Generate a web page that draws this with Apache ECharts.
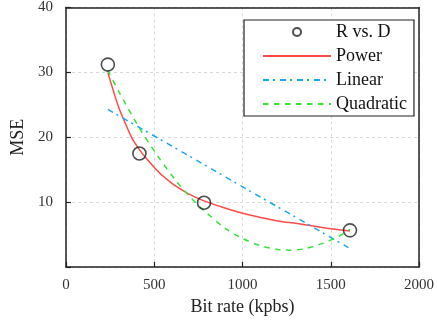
<!DOCTYPE html>
<html>
<head>
<meta charset="utf-8">
<script src="https://cdn.jsdelivr.net/npm/echarts@6/dist/echarts.min.js"></script>
<style>
html,body{margin:0;padding:0;background:#fff;}
#c{width:437px;height:321px;}
</style>
</head>
<body>
<div id="c"></div>
<script>
// Measured rate-distortion points
const rdX = [237, 416, 782, 1609];
const rdY = [31.2, 17.5, 9.9, 5.65];

// Power fit curve
const powerX = [237, 270, 300, 340, 377, 416, 450, 526, 600, 638, 700, 782, 900, 1030, 1200, 1310, 1450, 1609];
const powerY = [30.0, 27.0, 24.5, 21.9, 19.7, 18.1, 16.9, 14.6, 12.9, 12.2, 11.2, 10.2, 9.1, 8.1, 7.1, 6.7, 6.1, 5.55];

// Linear fit
const linearX = [237, 1600];
const linearY = [24.3, 3.0];

// Quadratic fit
const quadX = [237, 300, 414, 520, 620, 700, 782, 900, 1000, 1100, 1200, 1260, 1350, 1450, 1550, 1609];
const quadY = [30.3, 27.0, 21.5, 17.1, 13.4, 10.9, 8.7, 6.0, 4.4, 3.3, 2.7, 2.6, 2.8, 3.6, 4.8, 5.8];

// Axis ticks
const xTicks = [0, 500, 1000, 1500, 2000];
const yTicks = [0, 10, 20, 30, 40];

const zip = (xs, ys) => xs.map((x, i) => [x, ys[i]]);
const serif = "'Liberation Serif', 'DejaVu Serif', serif";
const frame = '#222';
const clear = 'rgba(0,0,0,0)';

const frameAxis = (pos) => ({
  position: pos, axisLine: {show: true, onZero: false, lineStyle: {color: frame, width: 1.5}},
  axisTick: {show: false}, axisLabel: {show: false}, splitLine: {show: false}
});

const chart = echarts.init(document.getElementById('c'), null, {renderer: 'canvas'});
chart.setOption({
  animation: false,
  backgroundColor: '#fff',
  grid: {left: 66, right: 14, top: 5, bottom: 54},
  xAxis: [{
    type: 'value', min: xTicks[0], max: xTicks[xTicks.length - 1], interval: 500,
    name: 'Bit rate (kpbs)', nameLocation: 'middle', nameGap: 31,
    nameTextStyle: {fontFamily: serif, fontSize: 18, color: '#222'},
    axisLine: {show: true, onZero: false, lineStyle: {color: frame, width: 1.5}},
    axisTick: {show: true, inside: true, length: 5, lineStyle: {color: frame, width: 1.2}},
    axisLabel: {fontFamily: serif, fontSize: 15, color: '#333', margin: 11, showMaxLabel: true, showMinLabel: true,
      formatter: v => String(v)},
    splitLine: {show: true, lineStyle: {color: '#d8d8d8', type: [3, 3], width: 1}}
  }, Object.assign({type: 'value', min: xTicks[0], max: xTicks[xTicks.length - 1], interval: 500}, frameAxis('top'))],
  yAxis: [{
    type: 'value', min: yTicks[0], max: yTicks[yTicks.length - 1], interval: 10,
    name: 'MSE', nameLocation: 'middle', nameGap: 39, nameRotate: 90,
    nameTextStyle: {fontFamily: serif, fontSize: 18, color: '#222'},
    axisLine: {show: true, onZero: false, lineStyle: {color: frame, width: 1.5}},
    axisTick: {show: true, inside: true, length: 5, lineStyle: {color: frame, width: 1.2}},
    axisLabel: {fontFamily: serif, fontSize: 15, color: '#333', margin: 13,
      formatter: v => (v === 0 ? '' : String(v))},
    splitLine: {show: true, lineStyle: {color: '#d8d8d8', type: [3, 3], width: 1}}
  }, Object.assign({type: 'value', min: yTicks[0], max: yTicks[yTicks.length - 1], interval: 10}, frameAxis('right'))],
  legend: {
    orient: 'vertical', left: 244, top: 20,
    padding: [2, 7, 2, 18],
    itemWidth: 68, itemHeight: 8, itemGap: 4,
    backgroundColor: '#fff', borderColor: frame, borderWidth: 1.2, borderRadius: 0,
    textStyle: {fontFamily: serif, fontSize: 18, color: '#111', lineHeight: 20},
    data: [
      {name: 'R vs. D', icon: 'circle'},
      {name: 'Power'},
      {name: 'Linear'},
      {name: 'Quadratic'}
    ]
  },
  series: [
    {
      name: 'Power', type: 'line', data: zip(powerX, powerY), smooth: 0.3,
      symbol: 'none', lineStyle: {color: '#ff4a4a', width: 1.5}, itemStyle: {color: clear, borderWidth: 0}, z: 3
    },
    {
      name: 'Linear', type: 'line', data: zip(linearX, linearY),
      symbol: 'none', lineStyle: {color: '#18a8f0', width: 1.5, type: [6, 4, 2, 5]}, itemStyle: {color: clear, borderWidth: 0}, z: 3
    },
    {
      name: 'Quadratic', type: 'line', data: zip(quadX, quadY), smooth: 0.3,
      symbol: 'none', lineStyle: {color: '#33e433', width: 1.5, type: [5.5, 5.5]}, itemStyle: {color: clear, borderWidth: 0}, z: 3
    },
    {
      name: 'R vs. D', type: 'scatter', data: zip(rdX, rdY), symbol: 'circle', symbolSize: 13,
      itemStyle: {color: clear, borderColor: '#222', borderWidth: 1.6}, z: 4
    }
  ]
});
</script>
</body>
</html>
